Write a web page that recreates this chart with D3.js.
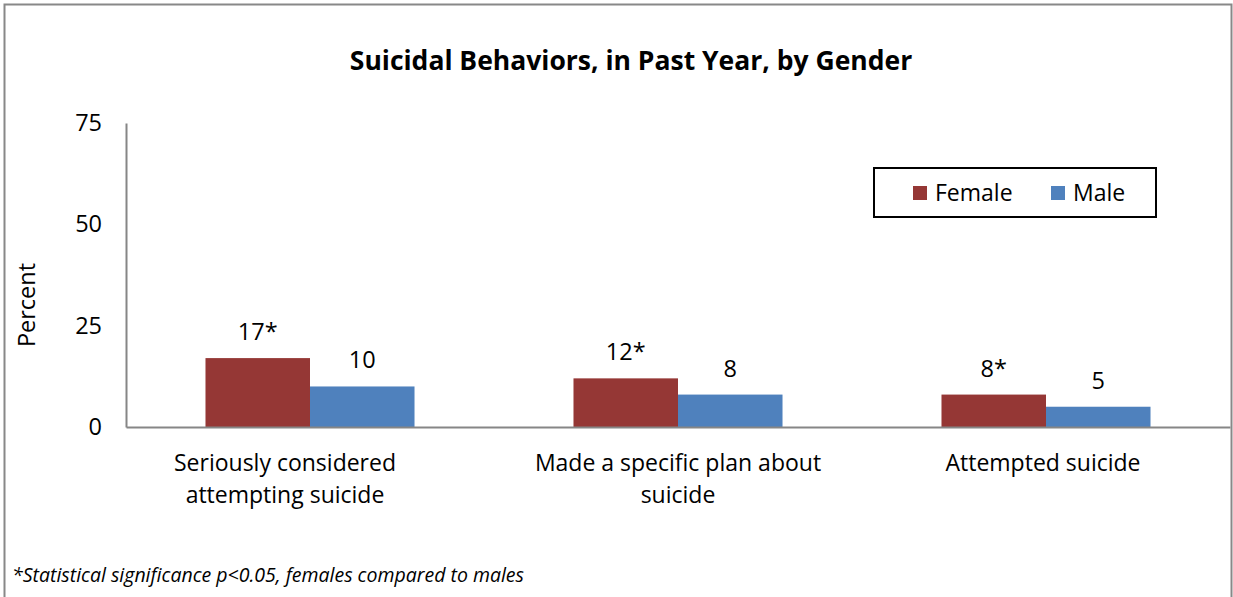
<!DOCTYPE html>
<html>
<head>
<meta charset="utf-8">
<script src="https://cdn.jsdelivr.net/npm/d3@7"></script>
<style>
  html, body { margin: 0; padding: 0; background: #fff; }
  svg { display: block; }
  text { font-family: "Open Sans", "Noto Sans", sans-serif; fill: #000; }
</style>
</head>
<body>
<svg id="chart" width="1233" height="597"></svg>
<script>
// Suicidal behaviors in the past year, by gender (percent)
const categories = [
  ["Seriously considered", "attempting suicide"],
  ["Made a specific plan about", "suicide"],
  ["Attempted suicide"]
];
const seriesNames = ["Female", "Male"];
const femaleValues = [17, 12, 8];
const maleValues = [10, 8, 5];
const femaleLabels = ["17*", "12*", "8*"];
const maleLabels = ["10", "8", "5"];
const yTicks = [0, 25, 50, 75];
const colors = { Female: "#953735", Male: "#4F81BD" };

const svg = d3.select("#chart");
const W = 1233, H = 597;

// outer frame
svg.append("rect")
  .attr("x", 4.5).attr("y", 4.5)
  .attr("width", W - 6).attr("height", H + 10)
  .attr("fill", "#fff").attr("stroke", "#888").attr("stroke-width", 2);

const plot = { left: 126, right: 1230, top: 123, bottom: 427 };

const x0 = d3.scaleBand()
  .domain(d3.range(categories.length))
  .range([plot.left, plot.right])
  .paddingInner(0.432).paddingOuter(0.216);
const x1 = d3.scaleBand()
  .domain(seriesNames)
  .range([0, x0.bandwidth()]);
const y = d3.scaleLinear().domain([0, 75]).range([plot.bottom, plot.top]);

// title
svg.append("text")
  .attr("x", 631).attr("y", 70)
  .attr("text-anchor", "middle")
  .style("font-size", "26.5px").style("font-weight", "bold")
  .text("Suicidal Behaviors, in Past Year, by Gender");

// y axis
const yAxis = d3.axisLeft(y).tickValues(yTicks).tickSize(0).tickPadding(24);
const gy = svg.append("g").attr("transform", `translate(${plot.left},0)`).call(yAxis);
gy.select(".domain").attr("stroke", "#868686").attr("stroke-width", 2);
gy.selectAll(".tick text")
  .style("font-size", "23.5px")
  .attr("dy", "0.32em");

// y axis title
svg.append("text")
  .attr("transform", "translate(35,305) rotate(-90)")
  .attr("text-anchor", "middle")
  .style("font-size", "23.5px")
  .text("Percent");

// bars
const rows = categories.map((c, i) => ({
  i,
  values: [
    { key: "Female", v: femaleValues[i], label: femaleLabels[i] },
    { key: "Male", v: maleValues[i], label: maleLabels[i] }
  ]
}));

const groups = svg.append("g").selectAll("g").data(rows).join("g")
  .attr("transform", d => `translate(${x0(d.i)},0)`);

groups.selectAll("rect").data(d => d.values).join("rect")
  .attr("x", d => x1(d.key))
  .attr("y", d => y(d.v))
  .attr("width", x1.bandwidth())
  .attr("height", d => y(0) - y(d.v))
  .attr("fill", d => colors[d.key]);

groups.selectAll("text.val").data(d => d.values).join("text")
  .attr("class", "val")
  .attr("x", d => x1(d.key) + x1.bandwidth() / 2)
  .attr("y", d => y(d.v) - 18)
  .attr("text-anchor", "middle")
  .style("font-size", "23.5px")
  .text(d => d.label);

// x axis
const xAxis = d3.axisBottom(x0).tickSize(0).tickFormat("");
const gx = svg.append("g").attr("transform", `translate(0,${plot.bottom})`).call(xAxis);
gx.select(".domain").attr("stroke", "#868686").attr("stroke-width", 2);

// category labels (the wrapped first label sits a little left of its group)
const labelNudge = [-25, 0, -3];
const catLabels = svg.append("g").selectAll("text").data(categories).join("text")
  .attr("x", (d, i) => x0(i) + x0.bandwidth() / 2 + labelNudge[i])
  .attr("y", 471)
  .attr("text-anchor", "middle")
  .style("font-size", "23px");
catLabels.selectAll("tspan").data(d => d).join("tspan")
  .attr("x", function () { return this.parentNode.getAttribute("x"); })
  .attr("dy", (d, j) => j === 0 ? 0 : 32)
  .text(d => d);

// legend
const lg = svg.append("g").attr("transform", "translate(874,168)");
lg.append("rect").attr("width", 282).attr("height", 49)
  .attr("fill", "#fff").attr("stroke", "#000").attr("stroke-width", 2);
const legendPos = [{ sx: 39, tx: 61 }, { sx: 177, tx: 199 }];
seriesNames.forEach((s, i) => {
  lg.append("rect")
    .attr("x", legendPos[i].sx).attr("y", 18)
    .attr("width", 14).attr("height", 14)
    .attr("fill", colors[s]);
  lg.append("text")
    .attr("x", legendPos[i].tx).attr("y", 25)
    .attr("dy", "0.35em")
    .style("font-size", "23px")
    .text(s);
});

// footnote
svg.append("text")
  .attr("x", 12).attr("y", 582)
  .style("font-size", "19.5px").style("font-style", "italic")
  .text("*Statistical significance p<0.05, females compared to males");
</script>
</body>
</html>
